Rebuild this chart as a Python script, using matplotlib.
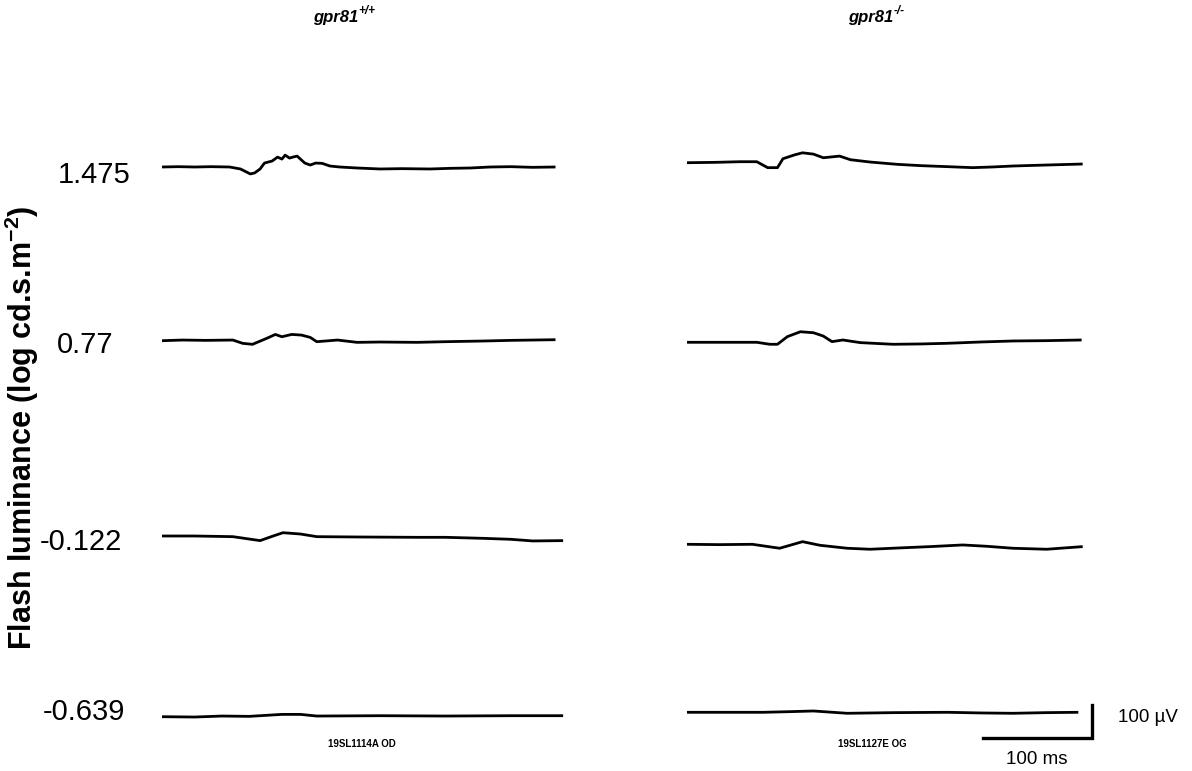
import numpy as np
import matplotlib
matplotlib.use("Agg")
import matplotlib.pyplot as plt

plt.rcParams['font.family'] = ['Liberation Sans', 'DejaVu Sans']
plt.rcParams['mathtext.fontset'] = 'custom'
plt.rcParams['mathtext.rm'] = 'Liberation Sans:bold'
plt.rcParams['mathtext.bf'] = 'Liberation Sans:bold'

# flash luminance rows (log cd.s.m-2)
luminance_labels = ['1.475', '0.77', '-0.122', '-0.639']
genotypes = ['+/+', '-/-']
recording_ids = ['19SL1114A OD', '19SL1127E OG']

# ERG traces: time (ms) and amplitude (µV), gpr81+/+
wt_1475_t = [0, 15, 30, 45, 62, 72, 81, 85, 90, 94, 101, 106, 110, 113, 117, 120, 124, 128, 131, 136,
             141, 147, 154, 163, 179, 200, 220, 246, 265, 283, 301, 320, 340, 361]
wt_1475_uv = [0, 1, 0, 1, 0, -6, -21, -18, -6, 12, 18, 30, 24, 36, 27, 30, 33, 21, 12, 6,
              12, 11, 3, 0, -3, -6, -5, -6, -4, -3, 0, 1, -1, 0]
wt_077_t = [0, 19, 40, 65, 74, 83, 96, 104, 110, 119, 128, 136, 142, 161, 179, 200, 234, 260, 294,
            320, 340, 361]
wt_077_uv = [0, 2, 1, 2, -8, -11, 7, 19, 12, 19, 17, 10, -3, 2, -5, -4, -5, -3, -1, 1, 2, 3]
wt_m0122_t = [0, 30, 65, 90, 102, 111, 127, 142, 180, 234, 260, 294, 320, 340, 368]
wt_m0122_uv = [0, 0, -2, -14, 0, 10, 6, -2, -3, -4, -4, -7, -10, -15, -14]
wt_m0639_t = [0, 30, 55, 80, 110, 127, 142, 200, 260, 320, 368]
wt_m0639_uv = [0, -1, 2, 1, 7, 7, 2, 3, 2, 3, 3]

# gpr81-/-
ko_1475_t = [0, 25, 49, 64, 74, 83, 88, 99, 106, 116, 125, 134, 140, 150, 168, 193, 215, 239, 262,
             280, 299, 330, 363]
ko_1475_uv = [0, 1, 3, 3, -15, -15, 12, 24, 30, 26, 15, 18, 20, 9, 2, -5, -9, -12, -15,
              -13, -10, -7, -4]
ko_077_t = [0, 30, 64, 76, 83, 92, 104, 116, 125, 133, 143, 159, 189, 215, 239, 270, 299, 330, 362]
ko_077_uv = [0, 0, 0, -6, -6, 17, 32, 29, 19, 2, 7, -1, -6, -5, -3, 1, 4, 5, 7]
ko_m0122_t = [0, 30, 60, 85, 106, 122, 147, 168, 195, 223, 253, 275, 299, 330, 363]
ko_m0122_uv = [0, -1, 0, -12, 8, -3, -12, -15, -11, -7, -2, -6, -12, -15, -7]
ko_m0639_t = [0, 35, 70, 95, 116, 147, 190, 239, 270, 299, 330, 359]
ko_m0639_uv = [0, 0, 0, 2, 4, -3, -1, 0, -2, -3, -1, 0]

scale_ms = 100
scale_uv = 100

W, H = 1192, 771
PX_MS = 1.09   # pixels per ms
PX_UV = 0.33   # pixels per µV

fig = plt.figure(figsize=(W / 100, H / 100), dpi=100)
ax = fig.add_axes([0, 0, 1, 1])
ax.set_xlim(0, W / PX_MS)
ax.set_ylim(0, H / PX_UV)
ax.axis('off')


def place(x_px, y_px):
    return x_px / PX_MS, (H - y_px) / PX_UV


wt_traces = [(wt_1475_t, wt_1475_uv), (wt_077_t, wt_077_uv),
             (wt_m0122_t, wt_m0122_uv), (wt_m0639_t, wt_m0639_uv)]
ko_traces = [(ko_1475_t, ko_1475_uv), (ko_077_t, ko_077_uv),
             (ko_m0122_t, ko_m0122_uv), (ko_m0639_t, ko_m0639_uv)]
wt_base = [167, 340.7, 536, 716.7]
ko_base = [162.7, 342.3, 544.3, 712.3]

for traces, x0, bases in [(wt_traces, 162, wt_base), (ko_traces, 687, ko_base)]:
    for (t, uv), yb in zip(traces, bases):
        ox, oy = place(x0, yb)
        ax.plot(np.array(t) + ox, np.array(uv) + oy, color='black', lw=2.0,
                solid_joinstyle='round', solid_capstyle='butt')

# scale bar
cx, cy = place(1092, 738)
ax.plot([cx - scale_ms, cx, cx], [cy, cy, cy + scale_uv], color='black', lw=2.4,
        solid_joinstyle='miter')
ax.text(*place(1118, 718), f'{scale_uv} µV', fontsize=13.5, ha='left', va='center')
ax.text(*place(1037, 760), f'{scale_ms} ms', fontsize=13.5, ha='center', va='center')

# luminance labels
label_pos = [(58, 183), (57, 353), (40, 550), (43, 720)]
for lab, (lx, ly) in zip(luminance_labels, label_pos):
    ax.text(*place(lx, ly), lab, fontsize=21, ha='left', va='baseline')

ax.text(*place(22, 428), r'Flash luminance (log cd.s.m$^{\mathbf{-2}}$)', rotation=90,
        fontsize=22, fontweight='bold', ha='center', va='center')

# genotype titles
for g, tx in zip(genotypes, [313, 848]):
    t1 = ax.text(*place(tx, 18), 'gpr81', fontsize=12, fontweight='bold',
                 fontstyle='italic', ha='left', va='center')
    ax.annotate(g, xy=(1.0, 0.55), xycoords=t1, fontsize=8.5, fontweight='bold',
                fontstyle='italic', ha='left', va='bottom')

# recording ids
for rid, rx in zip(recording_ids, [362, 872]):
    ax.text(*place(rx, 744), rid, fontsize=7, fontweight='bold', ha='center', va='center')

fig.savefig('out.png', dpi=100)
